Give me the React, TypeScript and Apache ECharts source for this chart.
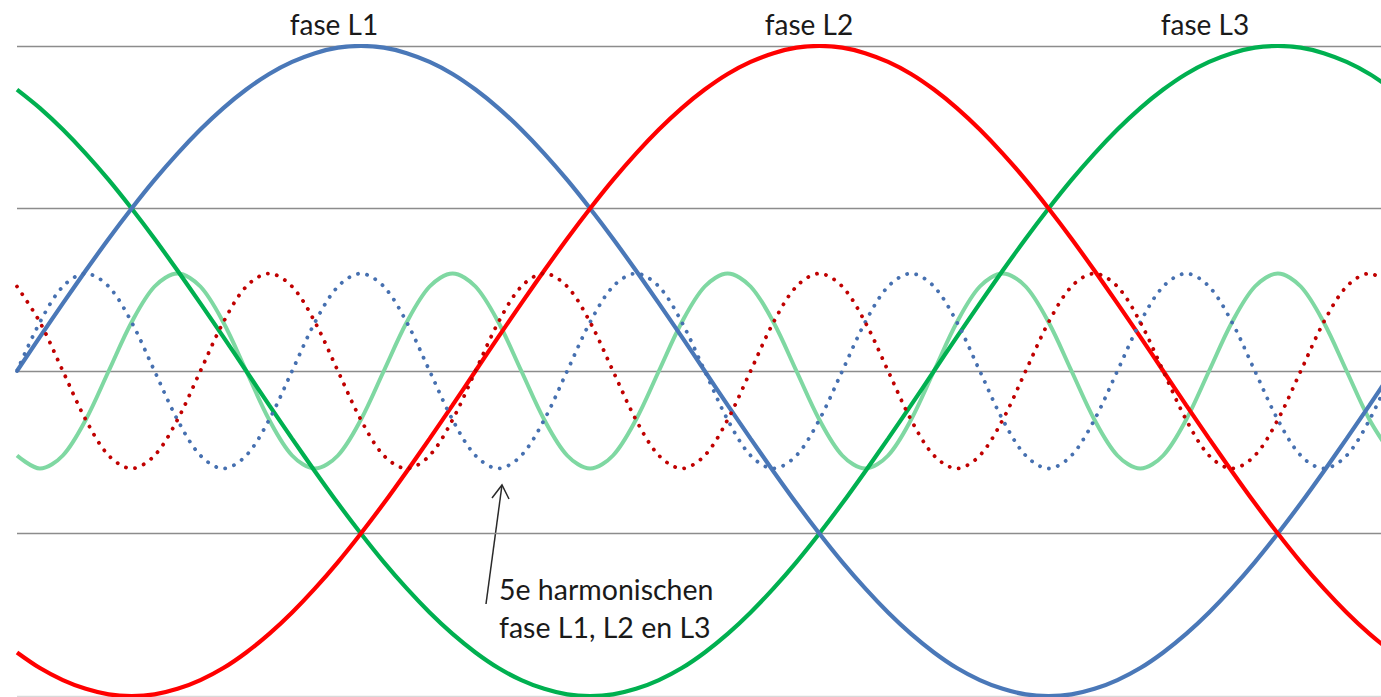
import React, { useEffect, useRef } from "react";
import * as echarts from "echarts";

// phase angle in degrees (x axis)
const angles = [
  0, 6, 12, 18, 24, 30, 36, 42, 48, 54, 60, 66, 72, 78, 84, 90, 96, 102, 108, 114,
  120, 126, 132, 138, 144, 150, 156, 162, 168, 174, 180, 186, 192, 198, 204, 210, 216, 222, 228, 234,
  240, 246, 252, 258, 264, 270, 276, 282, 288, 294, 300, 306, 312, 318, 324, 330, 336, 342, 348, 354, 360,
];

// fundamentals
const faseL1 = [
  0, 0.105, 0.208, 0.309, 0.407, 0.5, 0.588, 0.669, 0.743, 0.809, 0.866, 0.914, 0.951, 0.978, 0.995, 1,
  0.995, 0.978, 0.951, 0.914, 0.866, 0.809, 0.743, 0.669, 0.588, 0.5, 0.407, 0.309, 0.208, 0.105, 0,
  -0.105, -0.208, -0.309, -0.407, -0.5, -0.588, -0.669, -0.743, -0.809, -0.866, -0.914, -0.951, -0.978, -0.995, -1,
  -0.995, -0.978, -0.951, -0.914, -0.866, -0.809, -0.743, -0.669, -0.588, -0.5, -0.407, -0.309, -0.208, -0.105, 0,
];
const faseL2 = [
  -0.866, -0.914, -0.951, -0.978, -0.995, -1,
  -0.995, -0.978, -0.951, -0.914, -0.866, -0.809, -0.743, -0.669, -0.588, -0.5, -0.407, -0.309, -0.208, -0.105,
  0, 0.105, 0.208, 0.309, 0.407, 0.5, 0.588, 0.669, 0.743, 0.809, 0.866, 0.914, 0.951, 0.978, 0.995, 1,
  0.995, 0.978, 0.951, 0.914, 0.866, 0.809, 0.743, 0.669, 0.588, 0.5, 0.407, 0.309, 0.208, 0.105, 0,
  -0.105, -0.208, -0.309, -0.407, -0.5, -0.588, -0.669, -0.743, -0.809, -0.866,
];
const faseL3 = [
  0.866, 0.809, 0.743, 0.669, 0.588, 0.5, 0.407, 0.309, 0.208, 0.105, 0,
  -0.105, -0.208, -0.309, -0.407, -0.5, -0.588, -0.669, -0.743, -0.809, -0.866, -0.914, -0.951, -0.978, -0.995, -1,
  -0.995, -0.978, -0.951, -0.914, -0.866, -0.809, -0.743, -0.669, -0.588, -0.5, -0.407, -0.309, -0.208, -0.105,
  0, 0.105, 0.208, 0.309, 0.407, 0.5, 0.588, 0.669, 0.743, 0.809, 0.866, 0.914, 0.951, 0.978, 0.995, 1,
  0.995, 0.978, 0.951, 0.914, 0.866,
];

// 5th harmonics
const harmL1 = [
  0, 0.15, 0.26, 0.3, 0.26, 0.15, 0, -0.15, -0.26, -0.3, -0.26, -0.15,
  0, 0.15, 0.26, 0.3, 0.26, 0.15, 0, -0.15, -0.26, -0.3, -0.26, -0.15,
  0, 0.15, 0.26, 0.3, 0.26, 0.15, 0, -0.15, -0.26, -0.3, -0.26, -0.15,
  0, 0.15, 0.26, 0.3, 0.26, 0.15, 0, -0.15, -0.26, -0.3, -0.26, -0.15,
  0, 0.15, 0.26, 0.3, 0.26, 0.15, 0, -0.15, -0.26, -0.3, -0.26, -0.15,
  0,
];
const harmL2 = [
  0.26, 0.15, 0, -0.15, -0.26, -0.3, -0.26, -0.15, 0, 0.15, 0.26, 0.3,
  0.26, 0.15, 0, -0.15, -0.26, -0.3, -0.26, -0.15, 0, 0.15, 0.26, 0.3,
  0.26, 0.15, 0, -0.15, -0.26, -0.3, -0.26, -0.15, 0, 0.15, 0.26, 0.3,
  0.26, 0.15, 0, -0.15, -0.26, -0.3, -0.26, -0.15, 0, 0.15, 0.26, 0.3,
  0.26, 0.15, 0, -0.15, -0.26, -0.3, -0.26, -0.15, 0, 0.15, 0.26, 0.3,
  0.26,
];
const harmL3 = [
  -0.26, -0.3, -0.26, -0.15, 0, 0.15, 0.26, 0.3, 0.26, 0.15, 0, -0.15,
  -0.26, -0.3, -0.26, -0.15, 0, 0.15, 0.26, 0.3, 0.26, 0.15, 0, -0.15,
  -0.26, -0.3, -0.26, -0.15, 0, 0.15, 0.26, 0.3, 0.26, 0.15, 0, -0.15,
  -0.26, -0.3, -0.26, -0.15, 0, 0.15, 0.26, 0.3, 0.26, 0.15, 0, -0.15,
  -0.26, -0.3, -0.26, -0.15, 0, 0.15, 0.26, 0.3, 0.26, 0.15, 0, -0.15,
  -0.26,
];

const titles = ["fase L1", "fase L2", "fase L3"];
const annotation = ["5e harmonischen", "fase L1, L2 en L3"];

const FONT = "Lato, 'Open Sans', sans-serif";

const pairs = (ys: number[]) => angles.map((a, i) => [a, ys[i]]);

export default function App() {
  const ref = useRef<HTMLDivElement>(null);

  useEffect(() => {
    if (!ref.current) return;
    const chart = echarts.init(ref.current, undefined, { renderer: "svg" });

    const dotted = (color: string) => ({
      color,
      width: 3.8,
      type: [0.1, 9.2] as any,
      cap: "round" as const,
    });

    const mk = (name: string, data: number[], lineStyle: any) => ({
      name,
      type: "line",
      data: pairs(data),
      smooth: 0.33,
      showSymbol: false,
      symbol: "none",
      lineStyle,
      silent: true,
    });

    chart.setOption({
      animation: false,
      backgroundColor: "#ffffff",
      grid: { left: 17, right: 0, top: 46, bottom: 1, containLabel: false },
      xAxis: {
        type: "value",
        min: 0,
        max: 357,
        axisLine: { show: false },
        axisTick: { show: false },
        axisLabel: { show: false },
        splitLine: { show: false },
      },
      yAxis: {
        type: "value",
        min: -1,
        max: 1,
        interval: 0.5,
        axisLine: { show: false },
        axisTick: { show: false },
        axisLabel: { show: false },
        splitLine: {
          show: true,
          lineStyle: {
            color: ["#d9d9d9", "#8c8c8c", "#8c8c8c", "#8c8c8c", "#8c8c8c"],
            width: 1.3,
          },
        },
      },
      series: [
        mk("5e harmonische L3", harmL3, { color: "#7fd8a2", width: 4 }),
        mk("fase L3", faseL3, { color: "#00b050", width: 4.2 }),
        mk("fase L1", faseL1, { color: "#4a78b8", width: 4.2 }),
        mk("fase L2", faseL2, { color: "#ff0000", width: 4.2 }),
        mk("5e harmonische L1", harmL1, dotted("#4670b0")),
        mk("5e harmonische L2", harmL2, dotted("#c00000")),
      ],
      graphic: [
        ...titles.map((t, i) => ({
          type: "text",
          x: [334, 809, 1205][i],
          y: 24,
          style: {
            text: t,
            font: `28px ${FONT}`,
            fill: "#1a1a1a",
            align: "center",
            verticalAlign: "middle",
          },
        })),
        {
          type: "text",
          x: 499,
          y: 570,
          style: {
            text: annotation.join("\n"),
            font: `28.5px ${FONT}`,
            lineHeight: 38,
            fill: "#1a1a1a",
            align: "left",
            verticalAlign: "top",
          },
        },
        {
          type: "line",
          shape: { x1: 486, y1: 604, x2: 502, y2: 485 },
          style: { stroke: "#2a2a2a", lineWidth: 1.5 },
        },
        {
          type: "polyline",
          shape: { points: [[492, 498], [502, 485], [509, 499]] },
          style: { stroke: "#2a2a2a", lineWidth: 1.5, fill: null },
        },
      ],
    });

    return () => chart.dispose();
  }, []);

  return <div ref={ref} style={{ width: 1381, height: 697, position: "absolute", left: 0, top: 0 }} />;
}
